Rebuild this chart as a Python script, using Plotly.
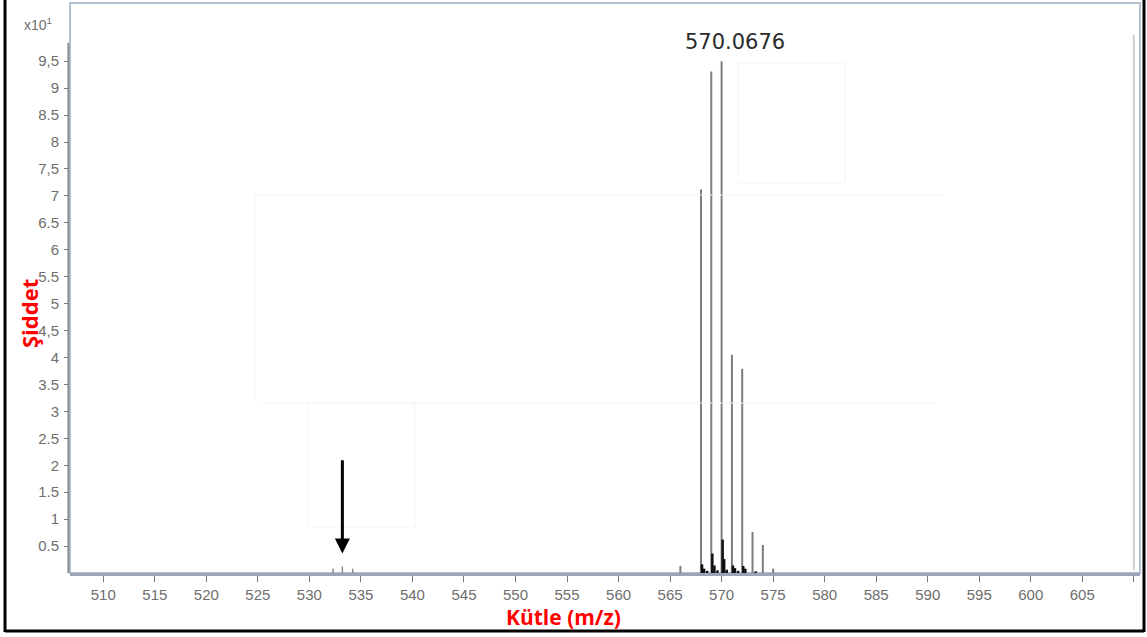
import plotly.graph_objects as go

# ---- data ----
main_mz = [566.0, 568.0, 569.0, 570.0, 571.0, 572.0, 573.0, 574.0, 575.0]
main_int = [0.13, 7.12, 9.31, 9.50, 4.05, 3.79, 0.76, 0.52, 0.08]

minor_mz = [568.1, 568.3, 568.6, 569.1, 569.3, 569.6, 570.1, 570.25, 570.5, 571.1, 571.3, 571.6, 572.1, 572.3, 573.3]
minor_int = [0.16, 0.08, 0.04, 0.36, 0.14, 0.05, 0.62, 0.26, 0.06, 0.14, 0.09, 0.04, 0.13, 0.08, 0.03]

arrow_peaks_mz = [532.3, 533.2, 534.2]
arrow_peaks_int = [0.08, 0.12, 0.08]

x_ticks = list(range(510, 611, 5))
x_ticktext = [str(v) for v in range(510, 606, 5)] + [""]
y_ticks = [0.5, 1, 1.5, 2, 2.5, 3, 3.5, 4, 4.5, 5, 5.5, 6, 6.5, 7, 7.5, 8, 8.5, 9, 9.5]
y_ticktext = ["0.5", "1", "1.5", "2", "2.5", "3", "3.5", "4", "4,5", "5", "5.5", "6",
              "6.5", "7", "7,5", "8", "8.5", "9", "9,5"]

top_label = "570.0676"
top_label_pos = (571.3, 9.86)


def stems(xs, ys):
    sx, sy = [], []
    for x, y in zip(xs, ys):
        sx += [x, x, None]
        sy += [0, y, None]
    return sx, sy


fig = go.Figure()
sx, sy = stems(main_mz, main_int)
fig.add_trace(go.Scatter(x=sx, y=sy, mode="lines", line=dict(color="#7c7c7c", width=2),
                         hoverinfo="skip", showlegend=False))
sx, sy = stems(arrow_peaks_mz, arrow_peaks_int)
fig.add_trace(go.Scatter(x=sx, y=sy, mode="lines", line=dict(color="#8a8a8a", width=1.5),
                         hoverinfo="skip", showlegend=False))
sx, sy = stems(minor_mz, minor_int)
fig.add_trace(go.Scatter(x=sx, y=sy, mode="lines", line=dict(color="#111111", width=2.5),
                         hoverinfo="skip", showlegend=False))

L, R, T, B = 70, 7, 3, 64
W, H = 1147, 637
pw, ph = W - L - R, H - T - B


def px(x):
    return (x - L) / pw


def py(y):
    return (H - B - y) / ph


shapes = []
# faint edit residues
faint = "#f4f4f4"
shapes += [
    dict(type="rect", xref="paper", yref="paper", x0=px(738), x1=px(845), y0=py(183), y1=py(63),
         line=dict(color=faint, width=1)),
    dict(type="line", xref="paper", yref="paper", x0=px(255), x1=px(945), y0=py(195), y1=py(195),
         line=dict(color=faint, width=1)),
    dict(type="line", xref="paper", yref="paper", x0=px(255), x1=px(255), y0=py(400), y1=py(195),
         line=dict(color=faint, width=1)),
    dict(type="rect", xref="paper", yref="paper", x0=px(308), x1=px(415), y0=py(527), y1=py(403),
         line=dict(color=faint, width=1)),
    dict(type="line", xref="paper", yref="paper", x0=px(262), x1=px(935), y0=py(403), y1=py(403),
         line=dict(color=faint, width=1)),
]
# plot frame
shapes.append(dict(type="rect", xref="paper", yref="paper", x0=0, x1=1, y0=0, y1=1,
                   line=dict(color="#b3c0d4", width=2), layer="below"))
# y axis line
shapes.append(dict(type="line", xref="paper", yref="y", x0=-0.0015, x1=-0.0015, y0=0, y1=9.84,
                   line=dict(color="#8c8c8c", width=2)))
# right edge grey line
shapes.append(dict(type="line", xref="x", yref="y", x0=610.0, x1=610.0, y0=0.05, y1=9.99,
                   line=dict(color="#cfcfcf", width=2)))
# outer black frame
shapes += [
    dict(type="line", xref="paper", yref="paper", x0=px(5), x1=px(5), y0=py(632), y1=py(0),
         line=dict(color="black", width=3)),
    dict(type="line", xref="paper", yref="paper", x0=px(1144), x1=px(1144), y0=py(632), y1=py(0),
         line=dict(color="black", width=3)),
    dict(type="line", xref="paper", yref="paper", x0=px(5), x1=px(1144), y0=py(631), y1=py(631),
         line=dict(color="black", width=3)),
]

annotations = [
    dict(text=top_label, x=top_label_pos[0], y=top_label_pos[1], xref="x", yref="y",
         showarrow=False, font=dict(family="DejaVu Sans", size=21, color="#2b2b2b")),
    dict(text="x10<sup>1</sup>", x=px(54), y=py(24), xref="paper", yref="paper",
         xanchor="right", yanchor="middle", showarrow=False,
         font=dict(family="Liberation Sans Narrow, Liberation Sans", size=14, color="#6e6e6e")),
    dict(text="<b>Şiddet</b>", x=px(29), y=py(314), xref="paper", yref="paper", textangle=-90,
         xanchor="center", yanchor="middle",
         showarrow=False, font=dict(family="Open Sans", size=22, color="#ff0000")),
    dict(text="<b>Kütle (m/z)</b>", x=px(563), y=py(617), xref="paper", yref="paper",
         xanchor="center", yanchor="middle",
         showarrow=False, font=dict(family="Open Sans", size=21, color="#ff0000")),
    dict(x=533.2, y=0.36, ax=533.2, ay=2.12, xref="x", yref="y", axref="x", ayref="y",
         text="", showarrow=True, arrowhead=2, arrowsize=1.0, arrowwidth=3, arrowcolor="black"),
]

tickfont = dict(family="Liberation Sans Narrow, Liberation Sans", size=15, color="#6e6e6e")
fig.update_layout(
    width=W, height=H,
    margin=dict(l=L, r=R, t=T, b=B, pad=0),
    paper_bgcolor="white", plot_bgcolor="white",
    shapes=shapes, annotations=annotations,
    xaxis=dict(range=[506.77, 610.6], tickvals=x_ticks, ticktext=x_ticktext,
               ticks="outside", ticklen=6, tickwidth=1, tickcolor="#7a7a7a",
               showline=True, linecolor="#9aa6b8", linewidth=3, showgrid=False, zeroline=False,
               tickfont=tickfont, ticklabelstandoff=0),
    yaxis=dict(range=[0, 10.58], tickvals=y_ticks, ticktext=y_ticktext,
               ticks="outside", ticklen=5, tickwidth=1, tickcolor="#7a7a7a",
               showline=False, showgrid=False, zeroline=False, tickfont=tickfont,
               ticklabelstandoff=2),
)

fig.write_html("out.html")
